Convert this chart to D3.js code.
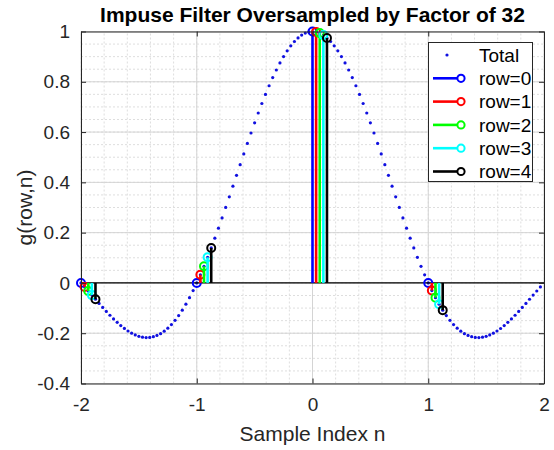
<!DOCTYPE html>
<html><head><meta charset="utf-8">
<script src="https://cdn.jsdelivr.net/npm/d3@7"></script>
<style>body{margin:0;background:#fff}svg{display:block}text{font-family:"Liberation Sans",Arial,Helvetica,sans-serif}</style>
</head><body>
<svg id="c" width="554" height="450"></svg>
<script>
// Total filter: sample index n (step 1/32) and value g
const totalN = d3.range(-64, 64).map(i => i / 32);
const totalG = [
 0,-0.0158,-0.0321,-0.0485,-0.0650,-0.0814,-0.0976,-0.1134,-0.1286,-0.1432,-0.1568,-0.1695,-0.1810,-0.1911,-0.1998,-0.2069,
 -0.2122,-0.2157,-0.2172,-0.2166,-0.2139,-0.2089,-0.2017,-0.1920,-0.1801,-0.1657,-0.1489,-0.1298,-0.1083,-0.0845,-0.0585,-0.0303,
 0,0.0322,0.0662,0.1020,0.1392,0.1778,0.2177,0.2585,0.3001,0.3423,0.3850,0.4278,0.4705,0.5130,0.5550,0.5963,
 0.6366,0.6758,0.7136,0.7498,0.7842,0.8167,0.8469,0.8749,0.9003,0.9231,0.9432,0.9603,0.9745,0.9856,0.9936,0.9984,
 1,0.9984,0.9936,0.9856,0.9745,0.9603,0.9432,0.9231,0.9003,0.8749,0.8469,0.8167,0.7842,0.7498,0.7136,0.6758,
 0.6366,0.5963,0.5550,0.5130,0.4705,0.4278,0.3850,0.3423,0.3001,0.2585,0.2177,0.1778,0.1392,0.1020,0.0662,0.0322,
 0,-0.0303,-0.0585,-0.0845,-0.1083,-0.1298,-0.1489,-0.1657,-0.1801,-0.1920,-0.2017,-0.2089,-0.2139,-0.2166,-0.2172,-0.2157,
 -0.2122,-0.2069,-0.1998,-0.1911,-0.1812,-0.1695,-0.1568,-0.1432,-0.1286,-0.1134,-0.0976,-0.0814,-0.0650,-0.0485,-0.0321,-0.0158
];
// Polyphase rows
const rowNames = ["row=0","row=1","row=2","row=3","row=4"];
const rowColors = ["#0000ff","#ff0000","#00ff00","#00ffff","#000000"];
const rowBaseN = [-2,-1,0,1];
const rowOffset = [0, 1/32, 2/32, 3/32, 4/32];
const rowG = [
 [0, 0, 1, 0],
 [-0.0158, 0.0322, 0.9984, -0.0303],
 [-0.0321, 0.0662, 0.9936, -0.0585],
 [-0.0485, 0.1020, 0.9856, -0.0845],
 [-0.0650, 0.1392, 0.9745, -0.1083]
];
const xTicks = [-2,-1,0,1,2];
const yTicks = [-0.4,-0.2,0,0.2,0.4,0.6,0.8,1];
const xMinor = d3.range(-20, 21, 2).map(v => v / 10);
const yMinor = d3.range(-8, 21).map(v => v / 20);

const W = 554, H = 450;
const m = {l: 81, r: 10, t: 31.5, b: 66.5};
const svg = d3.select("#c");
const x = d3.scaleLinear().domain([-2, 2]).range([m.l, W - m.r]);
const y = d3.scaleLinear().domain([-0.4, 1]).range([H - m.b, m.t]);
const axC = "#262626";

// grid
const g = svg.append("g");
g.selectAll(".gxm").data(xMinor).join("line")
 .attr("x1", d => x(d)).attr("x2", d => x(d)).attr("y1", y(-0.4)).attr("y2", y(1))
 .attr("stroke", "#dedede").attr("stroke-dasharray", "2,2").attr("stroke-width", 1);
g.selectAll(".gym").data(yMinor).join("line")
 .attr("y1", d => y(d)).attr("y2", d => y(d)).attr("x1", x(-2)).attr("x2", x(2))
 .attr("stroke", "#dedede").attr("stroke-dasharray", "2,2").attr("stroke-width", 1);
g.selectAll(".gx").data(xTicks).join("line")
 .attr("x1", d => x(d)).attr("x2", d => x(d)).attr("y1", y(-0.4)).attr("y2", y(1))
 .attr("stroke", "#d4d4d4").attr("stroke-width", 1);
g.selectAll(".gy").data(yTicks).join("line")
 .attr("y1", d => y(d)).attr("y2", d => y(d)).attr("x1", x(-2)).attr("x2", x(2))
 .attr("stroke", "#d4d4d4").attr("stroke-width", 1);

// Total dots
svg.append("g").selectAll("circle").data(totalN.map((n, i) => [n, totalG[i]])).join("circle")
 .attr("cx", d => x(d[0])).attr("cy", d => y(d[1])).attr("r", 1.6).attr("fill", "#1010e0");

// baseline
svg.append("line").attr("x1", x(-2)).attr("x2", x(2)).attr("y1", y(0)).attr("y2", y(0))
 .attr("stroke", "#000").attr("stroke-width", 1.2);

// stems
rowG.forEach((vals, r) => {
 const gg = svg.append("g");
 const pts = rowBaseN.map((b, k) => [b + rowOffset[r], vals[k]]);
 gg.selectAll("line").data(pts).join("line")
  .attr("x1", d => x(d[0])).attr("x2", d => x(d[0])).attr("y1", y(0)).attr("y2", d => y(d[1]))
  .attr("stroke", rowColors[r]).attr("stroke-width", 2.6);
 gg.selectAll("circle").data(pts).join("circle")
  .attr("cx", d => x(d[0])).attr("cy", d => y(d[1])).attr("r", 4)
  .attr("fill", "none").attr("stroke", rowColors[r]).attr("stroke-width", 2);
});

// axes box and ticks
const fmt = d => String(d);
const ax = svg.append("g");
const xa = ax.append("g").attr("transform", `translate(0,${y(-0.4)})`)
 .call(d3.axisBottom(x).tickValues(xTicks).tickFormat(fmt).tickSizeInner(-5).tickSizeOuter(0).tickPadding(14));
const ya = ax.append("g").attr("transform", `translate(${x(-2)},0)`)
 .call(d3.axisLeft(y).tickValues(yTicks).tickFormat(fmt).tickSizeInner(-5).tickSizeOuter(0).tickPadding(11));
const xt = ax.append("g").attr("transform", `translate(0,${y(1)})`)
 .call(d3.axisTop(x).tickValues(xTicks).tickFormat("").tickSizeInner(-5).tickSizeOuter(0));
const yr = ax.append("g").attr("transform", `translate(${x(2)},0)`)
 .call(d3.axisRight(y).tickValues(yTicks).tickFormat("").tickSizeInner(-5).tickSizeOuter(0));
[xa, ya, xt, yr].forEach(a => {
 a.selectAll("path.domain").attr("stroke", axC).attr("stroke-width", 1);
 a.selectAll(".tick line").attr("stroke", axC);
 a.selectAll("text").attr("fill", axC).style("font-size", "19px").style("font-family", '"Liberation Sans",Arial,sans-serif');
});

// labels
svg.append("text").attr("x", (x(-2) + x(2)) / 2).attr("y", 21.5).attr("text-anchor", "middle")
 .style("font-size", "21px").style("font-weight", "bold").attr("fill", "#000")
 .text("Impuse Filter Oversampled by Factor of 32");
svg.append("text").attr("x", (x(-2) + x(2)) / 2).attr("y", 441).attr("text-anchor", "middle")
 .style("font-size", "21px").attr("fill", axC).text("Sample Index n");
svg.append("text").attr("transform", `translate(32,${(y(-0.4) + y(1)) / 2}) rotate(-90)`).attr("text-anchor", "middle")
 .style("font-size", "21px").attr("fill", axC).text("g(row,n)");

// legend
const lg = svg.append("g");
lg.append("rect").attr("x", 428.5).attr("y", 42.5).attr("width", 104).attr("height", 139)
 .attr("fill", "#fff").attr("stroke", axC).attr("stroke-width", 1);
const ly = i => 55 + i * 23.3;
lg.append("circle").attr("cx", 447).attr("cy", ly(0)).attr("r", 1.6).attr("fill", "#1010e0");
lg.append("text").attr("x", 479).attr("y", ly(0)).attr("dy", "0.35em").style("font-size", "19px").attr("fill", "#000").text("Total");
rowNames.forEach((nm, r) => {
 const yy = ly(r + 1);
 lg.append("line").attr("x1", 433).attr("x2", 458).attr("y1", yy).attr("y2", yy)
  .attr("stroke", rowColors[r]).attr("stroke-width", 2.6);
 lg.append("circle").attr("cx", 461).attr("cy", yy).attr("r", 3.6)
  .attr("fill", "none").attr("stroke", rowColors[r]).attr("stroke-width", 2);
 lg.append("text").attr("x", 479).attr("y", yy).attr("dy", "0.35em").style("font-size", "19px").attr("fill", "#000").text(nm);
});
</script>
</body></html>
